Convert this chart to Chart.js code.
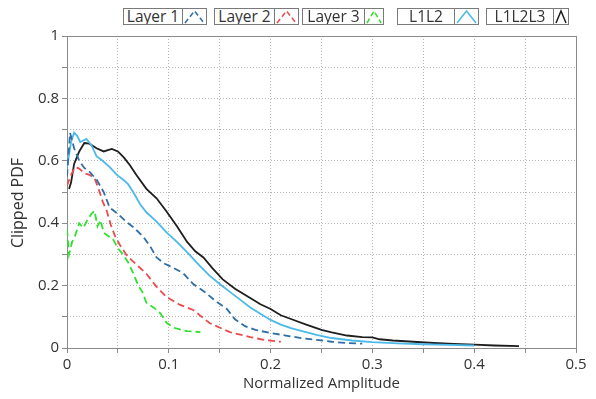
<!DOCTYPE html>
<html>
<head>
<meta charset="utf-8">
<script src="https://cdn.jsdelivr.net/npm/chart.js@4"></script>
<style>
	body { margin: 0; background: #fff; font-family: 'Open Sans', sans-serif; }
	#wrap { position: relative; width: 596px; height: 399px; }
	.lg { position: absolute; top: 8px; height: 15px; border: 1px solid #7a7a7a; display: flex; background: #fff; overflow: hidden; }
	.lg span { font-size: 15.5px; line-height: 15px; color: #333; text-align: center; white-space: nowrap; }
	.lg svg { border-left: 1px solid #7a7a7a; }
</style>
</head>
<body>
<div id="wrap">
	<canvas id="myChart" width="596" height="399"></canvas>
	<div id="legend"></div>
</div>
<script>
// Layer 1 (dashed)
const l1X = [0, 0.003, 0.007, 0.012, 0.017, 0.022, 0.029, 0.036, 0.042, 0.05, 0.058, 0.066, 0.075, 0.082, 0.088, 0.096, 0.104, 0.114, 0.124, 0.135, 0.147, 0.157, 0.165, 0.175, 0.185, 0.2, 0.215, 0.23, 0.245, 0.26, 0.275, 0.29];
const l1Y = [0.55, 0.69, 0.64, 0.6, 0.577, 0.565, 0.54, 0.5, 0.45, 0.43, 0.405, 0.385, 0.356, 0.324, 0.29, 0.27, 0.258, 0.24, 0.205, 0.18, 0.148, 0.125, 0.092, 0.07, 0.058, 0.048, 0.04, 0.032, 0.026, 0.02, 0.016, 0.014];
// Layer 2 (dashed)
const l2X = [0, 0.004, 0.008, 0.012, 0.017, 0.022, 0.027, 0.031, 0.035, 0.039, 0.043, 0.047, 0.052, 0.058, 0.064, 0.07, 0.078, 0.088, 0.098, 0.11, 0.124, 0.14, 0.16, 0.18, 0.195, 0.21];
const l2Y = [0.52, 0.555, 0.58, 0.575, 0.56, 0.555, 0.545, 0.51, 0.47, 0.44, 0.395, 0.36, 0.33, 0.3, 0.28, 0.262, 0.238, 0.196, 0.163, 0.14, 0.122, 0.08, 0.051, 0.035, 0.025, 0.02];
// Layer 3 (dashed)
const l3X = [0, 0.002, 0.005, 0.008, 0.012, 0.016, 0.02, 0.024, 0.027, 0.03, 0.033, 0.036, 0.04, 0.045, 0.05, 0.055, 0.06, 0.065, 0.07, 0.074, 0.078, 0.085, 0.092, 0.098, 0.106, 0.118, 0.131];
const l3Y = [0.38, 0.3, 0.34, 0.36, 0.4, 0.385, 0.41, 0.43, 0.44, 0.39, 0.41, 0.37, 0.36, 0.35, 0.32, 0.3, 0.275, 0.24, 0.2, 0.18, 0.145, 0.13, 0.11, 0.08, 0.064, 0.054, 0.051];
// L1L2
const l12X = [0, 0.004, 0.007, 0.01, 0.013, 0.016, 0.019, 0.024, 0.029, 0.035, 0.042, 0.049, 0.055, 0.06, 0.065, 0.072, 0.078, 0.088, 0.098, 0.108, 0.12, 0.13, 0.14, 0.15, 0.16, 0.17, 0.18, 0.19, 0.2, 0.21, 0.22, 0.23, 0.245, 0.26, 0.28, 0.3, 0.325, 0.35, 0.375, 0.4];
const l12Y = [0.58, 0.66, 0.69, 0.68, 0.66, 0.665, 0.67, 0.65, 0.615, 0.6, 0.58, 0.555, 0.54, 0.525, 0.5, 0.46, 0.435, 0.405, 0.37, 0.34, 0.3, 0.265, 0.232, 0.205, 0.18, 0.155, 0.13, 0.11, 0.09, 0.075, 0.064, 0.055, 0.042, 0.032, 0.024, 0.019, 0.015, 0.012, 0.01, 0.008];
// L1L2L3
const l123X = [0.002, 0.004, 0.007, 0.012, 0.017, 0.022, 0.029, 0.036, 0.044, 0.05, 0.056, 0.062, 0.068, 0.078, 0.088, 0.098, 0.108, 0.118, 0.126, 0.134, 0.143, 0.153, 0.165, 0.18, 0.19, 0.2, 0.21, 0.22, 0.235, 0.25, 0.26, 0.275, 0.29, 0.3, 0.307, 0.32, 0.34, 0.36, 0.38, 0.4, 0.42, 0.444];
const l123Y = [0.51, 0.53, 0.59, 0.63, 0.657, 0.655, 0.64, 0.63, 0.638, 0.63, 0.61, 0.585, 0.555, 0.51, 0.48, 0.437, 0.39, 0.34, 0.31, 0.29, 0.255, 0.22, 0.19, 0.16, 0.14, 0.125, 0.105, 0.093, 0.075, 0.058, 0.05, 0.04, 0.035, 0.034, 0.028, 0.024, 0.02, 0.016, 0.013, 0.011, 0.008, 0.006];

const xTicks = ['0', '0.1', '0.2', '0.3', '0.4', '0.5'];
const yTicks = ['0', '0.2', '0.4', '0.6', '0.8', '1'];

const seriesNames = ['Layer 1', 'Layer 2', 'Layer 3', 'L1L2', 'L1L2L3'];
const seriesColors = ['#2f6ea6', '#ea4b4f', '#2fe02f', '#4cb9e8', '#1e1e1e'];
const seriesDashed = [true, true, true, false, false];
const seriesX = [l1X, l2X, l3X, l12X, l123X];
const seriesY = [l1Y, l2Y, l3Y, l12Y, l123Y];

const fontFamily = "'Open Sans', sans-serif";
const textColor = '#333';

const datasets = seriesNames.map((name, i) => ({
	label: name,
	data: seriesX[i].map((x, j) => ({ x: x, y: seriesY[i][j] })),
	borderColor: seriesColors[i],
	borderWidth: 1.8,
	borderDash: seriesDashed[i] ? [7, 4] : [],
	pointRadius: 0,
	tension: 0,
	fill: false
}));

// plot frame over the grid, and the y title (sits a little below centre)
const framePlugin = {
	id: 'frame',
	beforeDatasetsDraw(chart) {
		const a = chart.chartArea;
		const c = chart.ctx;
		c.save();
		c.strokeStyle = '#8a8a8a';
		c.lineWidth = 1;
		c.setLineDash([]);
		c.strokeRect(Math.round(a.left) + 0.5, Math.round(a.top) + 0.5, Math.round(a.right - a.left), Math.round(a.bottom - a.top));
		c.translate(18, (a.top + a.bottom) / 2 + 11);
		c.rotate(-Math.PI / 2);
		c.font = '16px ' + fontFamily;
		c.fillStyle = textColor;
		c.textAlign = 'center';
		c.textBaseline = 'middle';
		c.fillText('Clipped PDF', 0, 0);
		c.restore();
	}
};

function axisOpts(labels, step, size) {
	return {
		type: 'linear',
		min: 0,
		max: step * 2 * (labels.length - 1),
		afterBuildTicks(scale) {
			scale.ticks = [];
			for (let i = 0; i <= (labels.length - 1) * 2; i++) scale.ticks.push({ value: +(i * step).toFixed(3) });
		},
		ticks: {
			font: { family: fontFamily, size: 15 },
			color: textColor,
			padding: 3,
			maxRotation: 0,
			autoSkip: false,
			callback: (v, i) => (i % 2 === 0 ? labels[i / 2] : '')
		},
		grid: { color: '#b4b4b4', tickColor: '#8a8a8a', tickLength: 5, lineWidth: 1 },
		border: { display: false, dash: [1, 2] },
		afterFit(scale) {
			if (scale.isHorizontal()) scale.height = size;
			else scale.width = size;
		}
	};
}

const xOpts = axisOpts(xTicks, 0.05, 51);
xOpts.title = { display: true, text: 'Normalized Amplitude', color: textColor, font: { family: fontFamily, size: 15 }, padding: { top: 0, bottom: 6 } };
const yOpts = axisOpts(yTicks, 0.1, 67);

new Chart(document.getElementById('myChart'), {
	type: 'line',
	data: { datasets: datasets },
	options: {
		responsive: false,
		animation: false,
		layout: { padding: { top: 36, right: 20, left: 0, bottom: 0 } },
		plugins: { legend: { display: false }, tooltip: { enabled: false } },
		scales: { x: xOpts, y: yOpts }
	},
	plugins: [framePlugin]
});

// legend boxes along the top
const legendBoxes = [
	{ left: 123, text: 58, icon: 23 },
	{ left: 214, text: 59, icon: 23 },
	{ left: 302, text: 61, icon: 18 },
	{ left: 397, text: 56, icon: 23 },
	{ left: 486, text: 66, icon: 14 }
];
const legend = document.getElementById('legend');
seriesNames.forEach((name, i) => {
	const b = legendBoxes[i];
	const box = document.createElement('div');
	box.className = 'lg';
	box.style.left = b.left + 'px';
	const span = document.createElement('span');
	span.style.width = b.text + 'px';
	span.textContent = name;
	box.appendChild(span);
	const w = b.icon;
	const dash = seriesDashed[i] ? ' stroke-dasharray="5,3"' : '';
	box.insertAdjacentHTML('beforeend',
		`<svg width="${w}" height="15"><polyline points="2,14 ${w / 2},2 ${w - 2},14" fill="none" stroke="${seriesColors[i]}" stroke-width="1.5"${dash}/></svg>`);
	legend.appendChild(box);
});
</script>
</body>
</html>
